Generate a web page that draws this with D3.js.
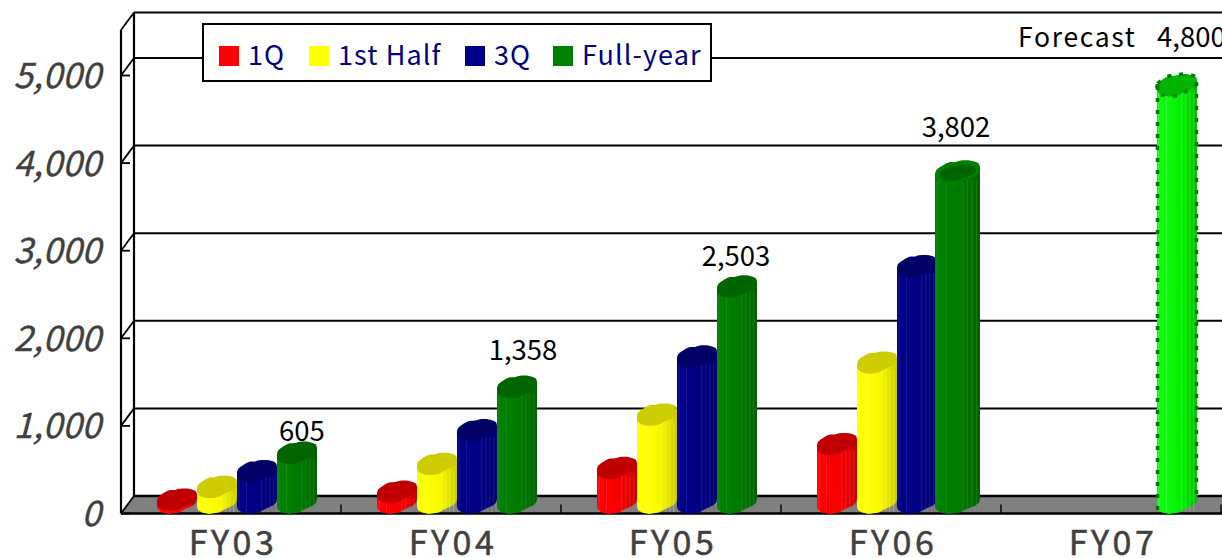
<!DOCTYPE html>
<html><head><meta charset="utf-8">
<script src="https://cdn.jsdelivr.net/npm/d3@7"></script>
<style>html,body{margin:0;padding:0;background:#fff;overflow:hidden}svg{display:block}</style>
</head><body><svg id="c" width="1222" height="558"></svg>
<script>
const categories = ["FY03","FY04","FY05","FY06","FY07"];
const seriesNames = ["1Q","1st Half","3Q","Full-year"];
const q1 = [70,160,431,704,null];
const half = [215,477,1040,1634,null];
const q3 = [395,862,1703,2735,null];
const fullYear = [605,1358,2503,3802,null];
const forecast = [null,null,null,null,4800];
const yTicks = [0,1000,2000,3000,4000,5000];
const labelled = ["FY03","FY04","FY05","FY06"];
const labelGap = [20,35,28,43];
const labelDx = [5,6,-1,-1];

const palette = {
  "1Q":{l:"#ff0000",m:"#f40000",r:"#cc0000",top:"#c00000",line:"#ff5050"},
  "1st Half":{l:"#ffff00",m:"#f6f600",r:"#cccc00",top:"#cccc00",line:"#ffff70"},
  "3Q":{l:"#000088",m:"#000080",r:"#000070",top:"#000066",line:"#4040a8"},
  "Full-year":{l:"#008000",m:"#007800",r:"#006400",top:"#006400",line:"#409840"},
  "Forecast":{l:"#10f810",m:"#00ee00",r:"#00c000",top:"#00b400",line:"#70ff70"}
};

const svg = d3.select("#c");
const W = 1222;
const x0 = d3.scaleBand().domain(categories).range([121,1221]);
const x1 = d3.scaleBand().domain(seriesNames).range([36,196]);
const y = d3.scaleLinear().domain([0,5000]).range([513.5,75.5]);
const dx = 13, dy = -17.5, half_d = 4;
const ink = "#000";

const defs = svg.append("defs");
Object.entries(palette).forEach(([k,c],i)=>{
  const g = defs.append("linearGradient").attr("id","g"+i).attr("x1",0).attr("x2",1).attr("y1",0).attr("y2",0);
  [[0,c.l],[.25,c.l],[.6,c.m],[1,c.r]].forEach(s=>g.append("stop").attr("offset",s[0]).attr("stop-color",s[1]));
  c.id = "url(#g"+i+")";
});

svg.append("path").attr("fill","#808080")
  .attr("d",d3.line()([[121,y(0)],[121+dx,y(0)+dy],[W,y(0)+dy],[W,y(0)]]));
const gridG = svg.append("g").attr("stroke",ink).attr("fill","none");
yTicks.forEach(t=>{
  const yy=y(t);
  gridG.append("line").attr("x1",121+dx).attr("x2",W).attr("y1",yy+dy).attr("y2",yy+dy).attr("stroke-width",t===0?2.6:2);
  gridG.append("line").attr("x1",121).attr("x2",121+dx).attr("y1",yy).attr("y2",yy+dy).attr("stroke-width",1.8);
  gridG.append("line").attr("x1",121).attr("x2",130).attr("y1",yy).attr("y2",yy).attr("stroke-width",1.8);
});
const topFront = 30, topBack = topFront+dy;
gridG.append("line").attr("x1",121+dx).attr("x2",W).attr("y1",topBack).attr("y2",topBack).attr("stroke-width",2.2);
gridG.append("line").attr("x1",121).attr("x2",121).attr("y1",topFront).attr("y2",y(0)).attr("stroke-width",2.2);
gridG.append("line").attr("x1",121+dx).attr("x2",121+dx).attr("y1",topBack).attr("y2",y(0)+dy).attr("stroke-width",2.2);
gridG.append("line").attr("x1",121).attr("x2",121+dx).attr("y1",topFront).attr("y2",topBack).attr("stroke-width",1.8);
gridG.append("line").attr("x1",121).attr("x2",W).attr("y1",y(0)).attr("y2",y(0)).attr("stroke-width",2.6);
categories.forEach(c=>{
  const xx=x0(c)+x0.bandwidth();
  gridG.append("line").attr("x1",xx).attr("x2",xx).attr("y1",y(0)-9).attr("y2",y(0)).attr("stroke-width",1.4);
});

const topShape = [[0,.15],[.02,-.12],[.12,-.3],[.3,-.5],[.45,-.52],[.55,-.58],[.8,-.58],[.97,-.45],[1,-.25],[.98,-.05],[.9,.1],[.68,.3],[.55,.45],[.3,.52],[.12,.45],[.02,.3]];
const frontEdge = [[1,-.25],[.98,-.05],[.9,.1],[.68,.3],[.55,.45],[.3,.52],[.12,.45],[.02,.3],[0,.15]];
const stripes = [.05,.24,.62,.72,.82,.92];
const curve = d3.line().curve(d3.curveCatmullRomClosed.alpha(.5));

function bar(cat,name,value,key,opts={}){
  const c = palette[key];
  const grow = opts.grow||0;
  const X = x0(cat)+x1(name)-grow/2+(opts.shift||0), w = x1.bandwidth()+grow, H = 20;
  const yTop = y(value)-half_d-3, yBase = y(0)-10;
  const g = svg.append("g");
  const bottom = frontEdge.map(p=>[X+p[0]*w, yBase+p[1]*H]);
  const outline = [[X,yTop+.15*H],[X+w,yTop-.25*H],...bottom];
  g.append("path").attr("fill",c.id).attr("d",d3.line()(outline)+"Z");
  stripes.forEach(s=>{
    const sx=X+s*w;
    g.append("line").attr("x1",sx).attr("x2",sx).attr("y1",yTop+6).attr("y2",yBase+8)
      .attr("stroke",c.line).attr("stroke-width",.7).attr("opacity",.55);
  });
  const top = topShape.map(p=>[X+p[0]*w,yTop+p[1]*H]);
  if(opts.halo){
    g.append("path").attr("fill",c.l).attr("d",curve(topShape.map(p=>[X+p[0]*w,yTop+p[1]*(H+2)])));
    g.append("path").attr("fill",c.top).attr("d",curve(topShape.map(p=>[X+w/2+(p[0]-.5)*w*.82,yTop+p[1]*(H-6)])));
  } else {
    g.append("path").attr("fill",c.top).attr("d",curve(top));
  }
  if(opts.dotted){
    const dot = s=>s.attr("fill","none").attr("stroke","#007a00").attr("stroke-width",3.5);
    dot(g.append("path")).attr("stroke-dasharray","4 8").attr("d",d3.line()([[X+.5,yTop],[X+.5,yBase+10]]));
    dot(g.append("path")).attr("stroke-dasharray","4 8").attr("d",d3.line()([[X+w-.5,yTop-4],[X+w-.5,yBase-4]]));
    dot(g.append("path")).attr("stroke-dasharray","4 8").attr("d",curve(top));
  }
}
categories.forEach((cat,i)=>{
  if(q1[i]!=null) bar(cat,"1Q",q1[i],"1Q");
  if(half[i]!=null) bar(cat,"1st Half",half[i],"1st Half");
  if(q3[i]!=null) bar(cat,"3Q",q3[i],"3Q");
  if(fullYear[i]!=null) bar(cat,"Full-year",fullYear[i],"Full-year",cat==="FY06"?{grow:5,shift:.5,halo:true}:{});
  if(forecast[i]!=null) bar(cat,"Full-year",forecast[i],"Forecast",{dotted:true});
});

const font = "'Noto Sans CJK JP','Noto Sans',sans-serif";
categories.forEach((cat,i)=>{
  if(!labelled.includes(cat)) return;
  svg.append("text").attr("x",x0(cat)+x1("Full-year")+x1.bandwidth()/2+labelDx[i]).attr("y",y(fullYear[i])-labelGap[i])
    .attr("text-anchor","middle").attr("font-family",font).attr("font-size",27.5).attr("fill","#000")
    .text(d3.format(",")(fullYear[i]));
});
svg.append("text").attr("x",1018).attr("y",47).attr("font-family",font).attr("font-size",26.5).attr("letter-spacing",1.7).attr("fill","#000").text("Forecast");
svg.append("text").attr("x",1157).attr("y",47).attr("font-family",font).attr("font-size",27.5).attr("fill","#000").text(d3.format(",")(forecast[4]));

yTicks.forEach(t=>{
  svg.append("text").attr("x",101).attr("y",y(t)+12.5).attr("text-anchor","end")
    .attr("font-family",font).attr("font-style","italic").attr("font-size",35).attr("fill","#404040")
    .attr("stroke","#404040").attr("stroke-width",.35)
    .text(d3.format(",")(t));
});
categories.forEach(c=>{
  svg.append("text").attr("x",x0(c)+x0.bandwidth()/2+2).attr("y",555).attr("text-anchor","middle")
    .attr("font-family",font).attr("font-size",34).attr("letter-spacing",3.5)
    .attr("fill","#404040").attr("stroke","#404040").attr("stroke-width",.5).text(c);
});

svg.append("rect").attr("x",203).attr("y",24).attr("width",508).attr("height",57).attr("fill","#fff").attr("stroke","#000").attr("stroke-width",2);
const legendX = [219,309,465,553];
seriesNames.forEach((n,i)=>{
  svg.append("rect").attr("x",legendX[i]).attr("y",46).attr("width",20).attr("height",20).attr("fill",palette[n].l);
  svg.append("text").attr("x",legendX[i]+29).attr("y",65).attr("font-family",font).attr("font-size",27).attr("letter-spacing",1.1).attr("fill","#000080").text(n);
});
</script></body></html>
